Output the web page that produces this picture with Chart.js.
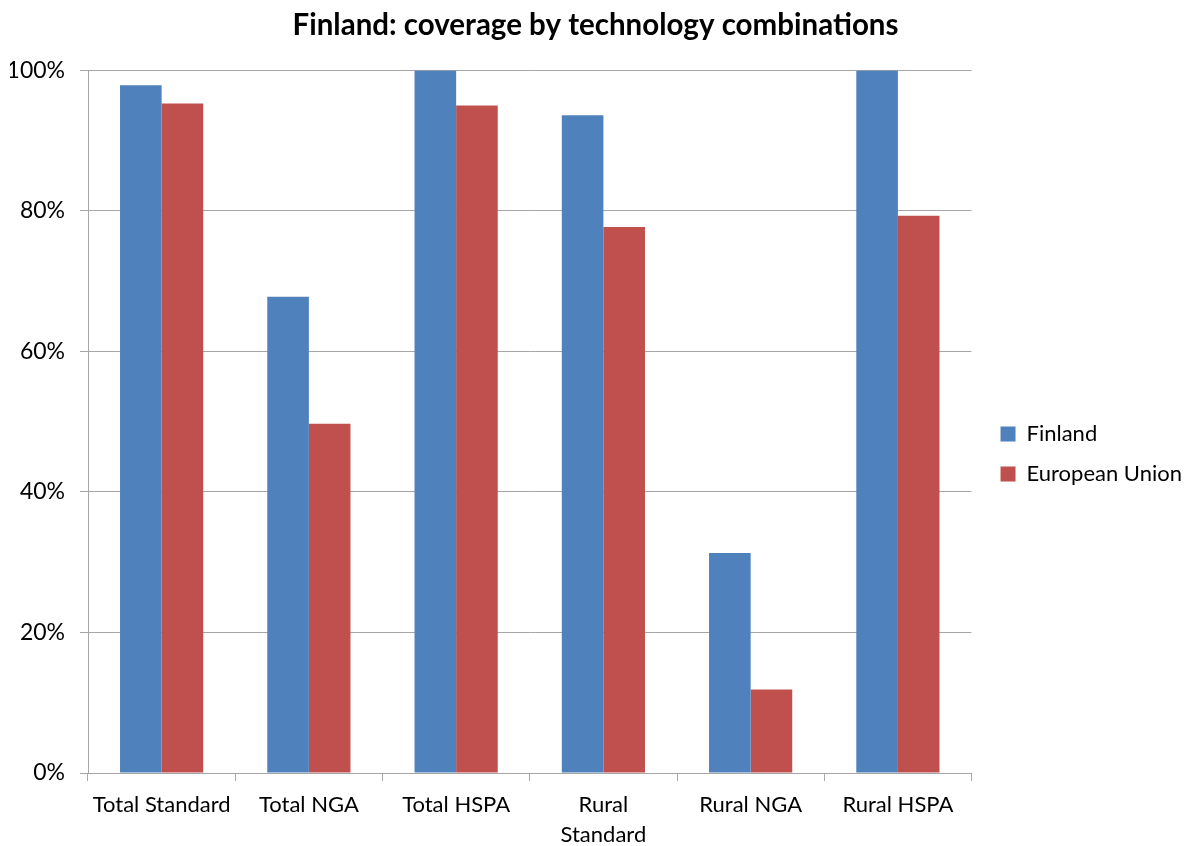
<!DOCTYPE html>
<html>
<head>
<meta charset="utf-8">
<script src="https://cdn.jsdelivr.net/npm/chart.js@4"></script>
<style>
  html, body { margin: 0; padding: 0; background: #fff; }
  #wrap { width: 1188px; height: 846px; }
</style>
</head>
<body>
<div id="wrap"><canvas id="grafico"></canvas></div>
<script>
// Dados do gráfico
const categorias = ['Total Standard', 'Total NGA', 'Total HSPA', ['Rural', 'Standard'], 'Rural NGA', 'Rural HSPA'];
const valoresFinland = [97.9, 67.8, 100, 93.6, 31.3, 100];
const valoresEU = [95.3, 49.7, 95.0, 77.7, 11.9, 79.3];
const ticksY = [0, 20, 40, 60, 80, 100];

const fonte = 'Lato, Carlito, Calibri, sans-serif';

// Desloca a legenda um pouco para a direita e para baixo, como no original
const ajusteLegenda = {
    id: 'ajusteLegenda',
    afterLayout(chart) {
        const leg = chart.legend;
        if (!leg) return;
        leg.left += 11;
        leg.right += 11;
        leg.top += 29;
        leg.bottom += 29;
    }
};

const ctx = document.getElementById('grafico');
new Chart(ctx, {
    type: 'bar',
    data: {
        labels: categorias,
        datasets: [
            {
                label: 'Finland',
                data: valoresFinland,
                backgroundColor: '#4f81bd',
                borderWidth: 0
            },
            {
                label: 'European Union',
                data: valoresEU,
                backgroundColor: '#c0504d',
                borderWidth: 0
            }
        ]
    },
    options: {
        responsive: true,
        maintainAspectRatio: false,
        animation: false,
        layout: { padding: { top: 4, right: 7, bottom: 0, left: 10 } },
        datasets: {
            bar: { categoryPercentage: 0.565, barPercentage: 1 }
        },
        plugins: {
            title: {
                display: true,
                text: 'Finland: coverage by technology combinations',
                color: '#000',
                font: { family: fonte, size: 29.5, weight: 'bold' },
                padding: { top: 4, bottom: 27 }
            },
            legend: {
                position: 'right',
                labels: {
                    color: '#000',
                    font: { family: fonte, size: 22 },
                    boxWidth: 15,
                    boxHeight: 15,
                    padding: 18
                }
            },
            tooltip: { enabled: false }
        },
        scales: {
            x: {
                offset: true,
                afterFit: s => {
                    // sem margem extra à esquerda por causa do primeiro rótulo
                    s.paddingLeft = 0;
                    s.paddingRight = 0;
                    if (s._margins) {
                        s._margins.left = 0;
                        s._margins.right = 0;
                    }
                    s.height = 73;
                },
                grid: {
                    offset: true,
                    drawOnChartArea: false,
                    drawTicks: true,
                    tickLength: 8,
                    color: '#a6a6a6'
                },
                border: { color: '#a6a6a6', width: 1 },
                ticks: {
                    color: '#000',
                    font: { family: fonte, size: 22, lineHeight: 1.35 },
                    maxRotation: 0,
                    autoSkip: false,
                    padding: 9
                }
            },
            y: {
                min: 0,
                max: 100,
                afterBuildTicks: axis => {
                    axis.ticks = ticksY.map(v => ({ value: v }));
                },
                afterFit: s => {
                    s.width = 78;
                },
                grid: {
                    color: '#a6a6a6',
                    tickLength: 8
                },
                border: { color: '#a6a6a6', width: 1 },
                ticks: {
                    color: '#000',
                    font: { family: fonte, size: 23 },
                    padding: 15,
                    callback: v => v + '%'
                }
            }
        }
    },
    plugins: [ajusteLegenda]
});
</script>
</body>
</html>
